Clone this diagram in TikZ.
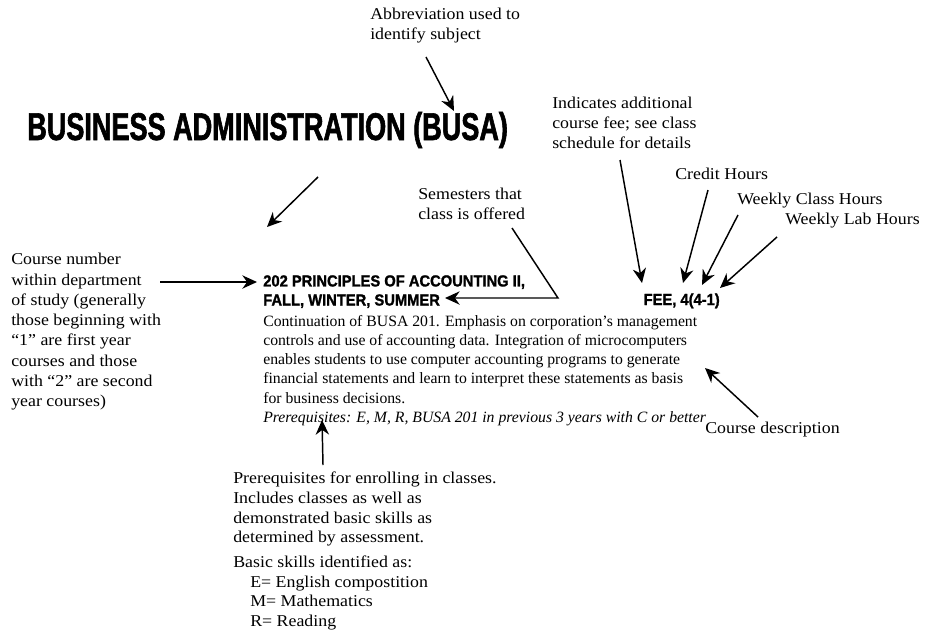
\documentclass[tikz,border=0pt]{standalone}
\usepackage{fontspec}
\setmainfont{Liberation Serif}[FakeStretch=1.08]
\newfontfamily\descfont{Liberation Serif}[FakeStretch=1.0,Ligatures=TeX]
\newfontfamily\titlefont{Liberation Sans Bold}[FakeStretch=0.70,FakeBold=1.5]
\newfontfamily\headfont{Liberation Sans Bold}[FakeStretch=0.92,FakeBold=1.4]
\usetikzlibrary{arrows.meta}
\tikzset{
  lbl/.style={anchor=north west,inner sep=0pt,align=left,font=\fontsize{12.4}{15}\selectfont},
  arr/.style={line width=1.1pt,-{Stealth[length=11pt,width=10pt]}},
}
\begin{document}
\begin{tikzpicture}[x=0.75pt,y=-0.75pt]
\useasboundingbox (0,0) rectangle (930,632);
\fill[white] (0,0) rectangle (930,632);

% text blocks
\node[lbl] (abbr) at (370,8) {Abbreviation used to\\identify subject};
\node[anchor=base west,inner sep=0pt,font=\titlefont\fontsize{29}{30}\selectfont] (title) at (27,140) {BUSINESS ADMINISTRATION (BUSA)};
\node[lbl,font=\fontsize{12.4}{15.2}\selectfont] (cnum) at (11,253) {Course number\\within department\\of study (generally\\those beginning with\\“1” are first year\\courses and those\\with “2” are second\\year courses)};
\node[anchor=north west,inner sep=0pt,align=left,font=\headfont\fontsize{12}{14.3}\selectfont] (head) at (263,275) {202 PRINCIPLES OF ACCOUNTING II,\\FALL, WINTER, SUMMER};
\node[anchor=base east,inner sep=0pt,font=\headfont\fontsize{12}{14.3}\selectfont] (fee) at (720,305) {FEE, 4(4-1)};
\node[lbl,font=\descfont\fontsize{11.8}{14.4}\selectfont] (desc) at (263,315) {Continuation of BUSA 201. Emphasis on corporation’s management\\controls and use of accounting data. Integration of microcomputers\\enables students to use computer accounting programs to generate\\financial statements and learn to interpret these statements as basis\\for business decisions.\\\textit{Prerequisites: E, M, R, BUSA 201 in previous 3 years with C or better}};
\node[lbl] (sem) at (418,188) {Semesters that\\class is offered};
\node[lbl] (ind) at (552,97) {Indicates additional\\course fee; see class\\schedule for details};
\node[lbl] (cred) at (675,168) {Credit Hours};
\node[lbl] (wclass) at (737,193) {Weekly Class Hours};
\node[lbl] (wlab) at (785,213) {Weekly Lab Hours};
\node[lbl] (cdesc) at (705,422) {Course description};
\node[lbl,font=\fontsize{12.4}{14.7}\selectfont] (prereq) at (233,472) {Prerequisites for enrolling in classes.\\Includes classes as well as\\demonstrated basic skills as\\determined by assessment.\\[4pt]Basic skills identified as:\\\hspace*{12.75pt}E= English compostition\\\hspace*{12.75pt}M= Mathematics\\\hspace*{12.75pt}R= Reading};

% connector end points
\coordinate (a1s) at (426,57);   \coordinate (a1e) at (454,111);
\coordinate (a2s) at (318,177);  \coordinate (a2e) at (267,227);
\coordinate (a3s) at (160,282);  \coordinate (a3e) at (257,282);
\coordinate (a4s) at (512,228);  \coordinate (a4m) at (558,298); \coordinate (a4e) at (445,298);
\coordinate (a5s) at (620,160);  \coordinate (a5e) at (642,283);
\coordinate (a6s) at (708,190);  \coordinate (a6e) at (683,283);
\coordinate (a7s) at (738,215);  \coordinate (a7e) at (702,285);
\coordinate (a8s) at (777,237);  \coordinate (a8e) at (720,288);
\coordinate (a9s) at (758,417);  \coordinate (a9e) at (705,368);
\coordinate (a10s) at (323,465); \coordinate (a10e) at (322,420);

\draw[arr] (a1s) -- (a1e);
\draw[arr] (a2s) -- (a2e);
\draw[arr] (a3s) -- (a3e);
\draw[arr] (a4s) -- (a4m) -- (a4e);
\draw[arr] (a5s) -- (a5e);
\draw[arr] (a6s) -- (a6e);
\draw[arr] (a7s) -- (a7e);
\draw[arr] (a8s) -- (a8e);
\draw[arr] (a9s) -- (a9e);
\draw[arr] (a10s) -- (a10e);
\end{tikzpicture}
\end{document}
